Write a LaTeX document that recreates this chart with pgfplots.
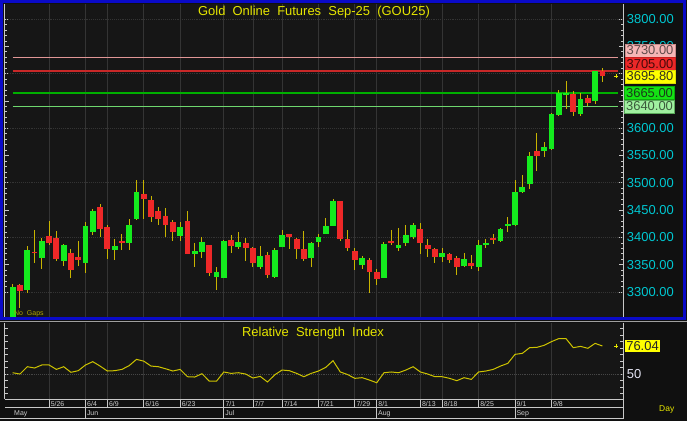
\documentclass[border=0pt]{standalone}
\usepackage{pgfplots}
\pgfplotsset{compat=1.18}
\usepackage{pgfplotstable}
\usepackage{fontspec}
\setmainfont{Liberation Sans}

\definecolor{bgc}{RGB}{16,16,16}
\definecolor{plotc}{RGB}{22,22,22}
\definecolor{framec}{RGB}{10,10,200}
\definecolor{gridc}{RGB}{52,52,52}
\definecolor{dotc}{RGB}{70,70,70}
\definecolor{wickc}{RGB}{200,180,0}
\definecolor{upc}{RGB}{20,235,30}
\definecolor{downc}{RGB}{238,40,40}
\definecolor{rsic}{RGB}{205,195,0}
\definecolor{titlec}{RGB}{230,230,0}
\definecolor{pricec}{RGB}{0,200,210}
\definecolor{linec}{RGB}{200,200,200}
\definecolor{datec}{RGB}{205,205,205}
\definecolor{fiftyc}{RGB}{230,230,245}
\definecolor{gapsc}{RGB}{175,165,0}
\definecolor{pinkc}{RGB}{225,150,150}
\definecolor{redlc}{RGB}{200,40,40}
\definecolor{greenlc}{RGB}{0,175,0}
\definecolor{lgreenlc}{RGB}{110,215,110}

% daily candles, i = trading day index (o h l c)
\pgfplotstableread{
i o h l c
1 3250 3315 3240 3309
3 3304 3384 3299 3377
5 3363 3398 3342 3393
8 3356 3388 3348 3386
11 3354 3428 3334 3421
12 3409 3452 3404 3448
15 3377 3397 3359 3384
17 3390 3434 3377 3422
18 3433 3505 3431 3483
24 3403 3428 3393 3419
26 3370 3389 3346 3375
27 3374 3401 3363 3391
29 3328 3345 3303 3337
30 3326 3395 3325 3393
32 3383 3409 3378 3391
35 3346 3384 3343 3366
37 3328 3381 3325 3377
38 3383 3414 3382 3404
42 3362 3392 3346 3389
43 3392 3406 3382 3400
44 3407 3436 3406 3421
45 3421 3470 3420 3466
49 3350 3366 3343 3363
52 3326 3392 3325 3388
54 3380 3418 3376 3386
55 3390 3422 3385 3404
56 3401 3426 3397 3423
60 3364 3380 3355 3372
63 3348 3371 3345 3360
65 3346 3395 3339 3386
66 3387 3397 3380 3390
68 3393 3418 3391 3416
69 3420 3437 3409 3425
70 3423 3505 3421 3484
71 3483 3514 3481 3493
72 3498 3557 3489 3550
74 3558 3574 3547 3566
75 3562 3628 3560 3626
76 3624 3670 3622 3664
77 3662 3686 3636 3665
79 3626 3664 3623 3653
81 3650 3705 3644 3704
}\upcandles

\pgfplotstableread{
i o h l c
2 3312 3314 3270 3302
4 3373 3414 3354 3372
6 3403 3430 3386 3390
7 3398 3412 3357 3360
9 3371 3379 3325 3340
10 3365 3393 3348 3359
13 3455 3461 3400 3415
14 3419 3423 3361 3379
16 3393 3406 3377 3391
19 3480 3505 3434 3470
20 3469 3475 3429 3437
21 3449 3456 3422 3434
22 3439 3453 3401 3423
23 3428 3431 3393 3409
25 3430 3448 3369 3370
28 3386 3387 3329 3335
31 3395 3404 3371 3385
33 3389 3398 3357 3380
34 3381 3383 3345 3354
36 3367 3373 3325 3332
39 3406 3406 3379 3400
40 3397 3399 3361 3379
41 3379 3411 3357 3361
46 3466 3467 3394 3397
47 3397 3413 3376 3380
48 3376 3381 3340 3359
50 3358 3362 3299 3337
51 3337 3343 3313 3323
53 3393 3414 3386 3389
57 3415 3426 3370 3390
58 3386 3397 3365 3378
59 3379 3381 3353 3364
61 3370 3372 3353 3359
62 3362 3366 3332 3345
64 3353 3367 3343 3348
67 3398 3407 3388 3397
73 3558 3592 3522 3550
78 3663 3669 3623 3629
80 3655 3661 3641 3646
82 3704 3710 3684 3695.8
}\downcandles

\pgfplotstableread{
i r
1 51.2
2 50.0
3 56.8
4 55.6
5 58.4
6 58.4
7 54.3
8 56.8
9 51.6
10 53.1
11 58.4
12 61.5
13 57.4
14 52.8
15 53.1
16 54.3
17 57.8
18 63.6
19 62.0
20 57.4
21 56.8
22 54.9
23 52.8
24 54.3
25 47.5
26 47.2
27 50.3
28 43.4
29 43.4
30 51.9
31 50.6
32 51.2
33 50.0
34 46.3
35 47.8
36 42.6
37 49.3
38 53.7
39 53.1
40 50.6
41 47.5
42 50.6
43 52.8
44 56.2
45 62.4
46 51.9
47 49.5
48 46.0
49 46.6
50 44.4
51 41.9
52 51.2
53 51.9
54 51.2
55 53.7
56 56.8
57 51.9
58 50.0
59 47.5
60 47.5
61 46.0
62 43.8
63 46.6
64 45.0
65 51.9
66 52.8
67 54.3
68 57.4
69 59.9
70 68.3
71 69.2
72 74.5
73 74.8
74 76.7
75 80.1
76 82.9
77 82.9
78 74.5
79 75.7
80 73.9
81 78.5
82 76.04
}\rsidata

\pgfplotsset{
  panel/.style={scale only axis, anchor=south west, width=619bp,
    xmin=-0.195, xmax=84.83, axis line style={draw=none}},
  candle/.style={draw=none, mark=none, forget plot,
    error bars/.cd, y dir=both, y explicit, error mark=none,
    error bar style={draw=#1, line width=5.8bp}},
  wick/.style={draw=none, mark=none, forget plot,
    error bars/.cd, y dir=both, y explicit, error mark=none,
    error bar style={draw=wickc, line width=1bp}},
}

\begin{document}
\begin{tikzpicture}[x=1bp,y=1bp]
\useasboundingbox (0,0) rectangle (687,421);
\fill[bgc] (0,0) rectangle (687,421);
% lower-left corners of the panels (image y measured from the bottom)
\coordinate (pmain) at (4,104);
\coordinate (prsi)  at (4,21.7);
\coordinate (pday)  at (4,13.3);
\coordinate (pmon)  at (4,2.3);

% ---------- price panel ----------
\begin{axis}[panel, at={(pmain)}, height=313bp,
  ymin=3254.2, ymax=3827.5,
  axis background/.style={fill=plotc},
  xtick=\empty,
  ytick={3300,3350,...,3800}, minor y tick num=4,
  yticklabels={3300.00,3350.00,3400.00,3450.00,3500.00,3550.00,3600.00,{},{},3750.00,3800.00},
  ytick pos=both, yticklabel pos=right, tick align=inside,
  major tick length=4.5bp, minor tick length=2.5bp,
  tick style={draw=linec, line width=0.7bp},
  yticklabel style={font=\fontsize{13}{13}\selectfont, text=pricec,
    anchor=west, inner sep=0pt, xshift=3.7bp}]
\pgfplotsinvokeforeach{3300,3400,...,3800}{
  \draw[gridc, densely dotted, line width=0.9bp] (axis cs:-0.195,#1) -- (axis cs:84.83,#1);}
\pgfplotsinvokeforeach{6,11,14,19,24,30,34,38,43,48,51,57,60,65,70,75}{
  \draw[gridc, line width=0.9bp] (axis cs:#1,3254.2) -- (axis cs:#1,3827.5);}
\addplot[pinkc, line width=1bp] coordinates {(1,3730) (84.1,3730)};
\addplot[redlc, line width=1.3bp] coordinates {(1,3705) (84.1,3705)};
\addplot[greenlc, line width=1.8bp] coordinates {(1,3665) (84.1,3665)};
\addplot[lgreenlc, line width=1.3bp] coordinates {(1,3640) (84.1,3640)};
\addplot[wick] table[x=i, y expr={(\thisrow{h}+\thisrow{l})/2},
  y error expr={(\thisrow{h}-\thisrow{l})/2}] \upcandles;
\addplot[wick] table[x=i, y expr={(\thisrow{h}+\thisrow{l})/2},
  y error expr={(\thisrow{h}-\thisrow{l})/2}] \downcandles;
\addplot[candle=upc] table[x=i, y expr={(\thisrow{o}+\thisrow{c})/2},
  y error expr={max((\thisrow{c}-\thisrow{o})/2,0.9)}] \upcandles;
\addplot[candle=downc] table[x=i, y expr={(\thisrow{o}+\thisrow{c})/2},
  y error expr={max((\thisrow{o}-\thisrow{c})/2,0.9)}] \downcandles;
\addplot[only marks, mark=+, mark size=2bp, titlec] coordinates {(83.9,3695.8)};
\end{axis}

% ---------- RSI panel ----------
\begin{axis}[panel, at={(prsi)}, height=76.8bp,
  ymin=26.5, ymax=97.9,
  axis background/.style={fill=plotc},
  xtick=\empty, ytick={50}, minor ytick={32,38,44,56,62,68,74,80,86,92},
  ytick pos=both, yticklabel pos=right, tick align=inside,
  major tick length=3.5bp, minor tick length=3.5bp,
  tick style={draw=linec, line width=0.7bp},
  yticklabel style={font=\fontsize{13}{13}\selectfont, text=fiftyc,
    anchor=west, inner sep=0pt, xshift=3.7bp},
  /pgf/number format/assume math mode=true]
\pgfplotsinvokeforeach{6,11,14,19,24,30,34,38,43,48,51,57,60,65,70,75}{
  \draw[gridc, line width=0.9bp] (axis cs:#1,26.5) -- (axis cs:#1,97.9);}
\draw[dotc, densely dotted, line width=0.9bp] (axis cs:-0.195,50) -- (axis cs:84.83,50);
\addplot[rsic, line width=1bp] table[x=i, y=r] \rsidata;
\addplot[only marks, mark=+, mark size=2bp, titlec] coordinates {(83.9,76.3)};
\end{axis}

% ---------- date rows ----------
\begin{axis}[panel, at={(pday)}, height=8.4bp, ymin=0, ymax=1, ytick=\empty,
  xtick={6,11,14,19,24,30,34,38,43,48,51,57,60,65,70,75},
  xticklabels={5/26,6/4,6/9,6/16,6/23,7/1,7/7,7/14,7/21,7/29,8/1,8/13,8/18,8/25,9/1,9/8},
  xtick style={draw=none}, xmajorgrids, grid style={draw=linec, line width=0.8bp},
  xticklabel style={font=\fontsize{7}{7}\selectfont, text=datec, anchor=base west,
    inner sep=0pt, xshift=1.5bp, yshift=1.3bp}]
\addplot[draw=none] coordinates {(1,0.5)};
\end{axis}
\begin{axis}[panel, at={(pmon)}, height=11bp, ymin=0, ymax=1, ytick=\empty,
  xtick={11,30,51,70}, xticklabels={Jun,Jul,Aug,Sep},
  extra x ticks={1}, extra x tick labels={May}, extra x tick style={grid=none},
  xtick style={draw=none}, xmajorgrids, grid style={draw=linec, line width=0.8bp},
  xticklabel style={font=\fontsize{7}{7}\selectfont, text=datec, anchor=base west,
    inner sep=0pt, xshift=1.3bp, yshift=3bp}]
\addplot[draw=none] coordinates {(1,0.5)};
\end{axis}

% ---------- frames and rules ----------
\draw[linec, line width=0.8bp] (4.8,{421-4}) -- (4.8,{421-317});
\draw[linec, line width=0.8bp] (623.3,{421-4}) -- (623.3,{421-317});
\draw[framec, line width=2.6bp] (1.6,{421-1.6}) rectangle (684.6,{421-318.7});
\draw[gray!75, line width=1.3bp] (0,{421-321.8}) -- (687,{421-321.8});
\draw[linec, line width=0.8bp] (4.8,{421-322.6}) -- (4.8,{421-399.3});
\draw[linec, line width=0.8bp] (623.3,{421-322.6}) -- (623.3,{421-418.7});
\draw[linec, line width=0.8bp] (4.8,{421-399.3}) -- (623.3,{421-399.3});
\draw[linec, line width=0.8bp] (4.8,{421-407.7}) -- (623.3,{421-407.7});
\draw[linec, line width=0.8bp] (0,{421-418.7}) -- (623.3,{421-418.7});

% ---------- texts ----------
\node[anchor=base, font=\fontsize{13}{13}\selectfont, text=titlec, inner sep=0pt]
  at (314,{421-16}) {Gold~~Online~~Futures~~Sep-25~~(GOU25)};
\node[anchor=base, font=\fontsize{13}{13}\selectfont, text=titlec, inner sep=0pt]
  at (313,{421-336}) {Relative~~Strength~~Index};
\node[anchor=base west, font=\fontsize{7}{7}\selectfont, text=gapsc, inner sep=0pt]
  at (14,{421-315.2}) {No~~Gaps};
\node[anchor=base west, font=\fontsize{8.5}{8.5}\selectfont, text=titlec, inner sep=0pt]
  at (659,{421-411.3}) {Day};

\definecolor{b1f}{RGB}{245,182,182}\definecolor{b1d}{RGB}{200,140,140}\definecolor{b1t}{RGB}{95,75,75}
\definecolor{b2f}{RGB}{236,40,40}\definecolor{b2d}{RGB}{200,30,30}\definecolor{b2t}{RGB}{70,10,10}
\definecolor{b3f}{RGB}{255,255,0}\definecolor{b3d}{RGB}{220,220,0}\definecolor{b3t}{RGB}{50,50,30}
\definecolor{b4f}{RGB}{20,225,20}\definecolor{b4d}{RGB}{10,170,10}\definecolor{b4t}{RGB}{25,60,25}
\definecolor{b5f}{RGB}{160,240,160}\definecolor{b5d}{RGB}{90,170,90}\definecolor{b5t}{RGB}{60,90,60}
\tikzset{pbox/.style={minimum width=50bp, minimum height=13bp, inner sep=0pt,
  font=\fontsize{13}{13}\selectfont, line width=0.6bp}}
\node[pbox, fill=b1f, draw=b1d, text=b1t] at (650,{421-50.5}) {3730.00};
\node[pbox, fill=b2f, draw=b2d, text=b2t] at (650,{421-63.7}) {3705.00};
\node[pbox, fill=b3f, draw=b3d, text=b3t] at (650,{421-76.4}) {3695.80};
\node[pbox, fill=b4f, draw=b4d, text=b4t] at (649.5,{421-93}) {3665.00};
\node[pbox, fill=b5f, draw=b5d, text=b5t] at (649.5,{421-106.3}) {3640.00};
\node[minimum width=35bp, minimum height=12bp, inner sep=0pt, font=\fontsize{13}{13}\selectfont,
  fill=b3f, text=black!85] at (642.5,{421-346}) {76.04};
\end{tikzpicture}
\end{document}
